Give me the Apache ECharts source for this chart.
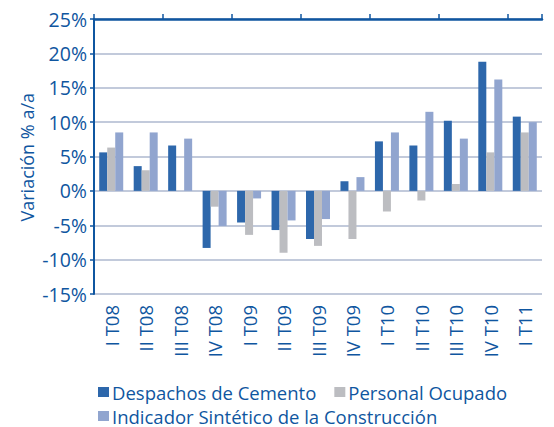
<!DOCTYPE html>
<html>
<head>
<meta charset="utf-8">
<script src="https://cdn.jsdelivr.net/npm/echarts@6/dist/echarts.min.js"></script>
<style>
  html, body { margin: 0; padding: 0; background: #fff; }
  #chart { width: 554px; height: 427px; }
</style>
</head>
<body>
<div id="chart"></div>
<script>
var quarters = ['I T08', 'II T08', 'III T08', 'IV T08', 'I T09', 'II T09', 'III T09', 'IV T09', 'I T10', 'II T10', 'III T10', 'IV T10', 'I T11'];
var cemento = [5.6, 3.6, 6.6, -8.3, -4.6, -5.7, -7.0, 1.4, 7.2, 6.6, 10.2, 18.8, 10.8];
var personal = [6.3, 3.0, 0, -2.3, -6.4, -9.0, -8.0, -7.0, -3.0, -1.4, 1.0, 5.6, 8.5];
var indicador = [8.5, 8.5, 7.6, -5.1, -1.1, -4.3, -4.1, 2.0, 8.5, 11.5, 7.6, 16.2, 10.0];
var seriesNames = ['Despachos de Cemento', 'Personal Ocupado', 'Indicador Sintético de la Construcción'];

var ink = '#0f56a0';
var font = 'Open Sans, sans-serif';

var chart = echarts.init(document.getElementById('chart'), null, { renderer: 'svg' });
chart.setOption({
  animation: false,
  textStyle: { fontFamily: font },
  grid: { left: 94, right: 12, top: 19, bottom: 133 },
  legend: [
    {
      data: seriesNames.slice(0, 2),
      left: 93, top: 377,
      icon: 'rect', itemWidth: 11, itemHeight: 10, itemGap: 18,
      textStyle: { color: ink, fontSize: 18.5, lineHeight: 20, fontFamily: font, padding: [0, 0, 0, -2] }
    },
    {
      data: seriesNames.slice(2),
      left: 93, top: 401,
      icon: 'rect', itemWidth: 11, itemHeight: 10,
      textStyle: { color: ink, fontSize: 18.5, lineHeight: 20, fontFamily: font, padding: [0, 0, 0, -2] }
    }
  ],
  graphic: [{
    type: 'text',
    left: 18, top: 93,
    rotation: Math.PI / 2,
    style: { text: 'Variación % a/a', fill: ink, fontSize: 18, fontFamily: font }
  }],
  xAxis: [
    {
      type: 'category',
      data: quarters,
      axisLine: { show: false },
      axisTick: { show: false },
      axisLabel: { rotate: 90, color: ink, fontSize: 18.5, margin: 11, interval: 0, fontFamily: font }
    },
    {
      type: 'category',
      data: quarters,
      axisLine: { onZero: true, lineStyle: { color: ink, width: 2.5 } },
      axisTick: { show: true, length: 5, lineStyle: { color: ink, width: 1.5 } },
      axisLabel: { show: false }
    }
  ],
  yAxis: {
    type: 'value',
    min: -15, max: 25, interval: 5,
    axisLine: { show: true, lineStyle: { color: ink, width: 2 } },
    axisTick: { show: true, length: 4, lineStyle: { color: ink, width: 1.5 } },
    axisLabel: { color: ink, fontSize: 19.5, margin: 7, formatter: '{value}%', fontFamily: font },
    splitLine: { lineStyle: { color: '#aeb8cf', width: 1.5 } }
  },
  series: [
    { name: seriesNames[0], type: 'bar', data: cemento, barWidth: 8, barGap: '0%', itemStyle: { color: '#2d67ab' } },
    { name: seriesNames[1], type: 'bar', data: personal, barWidth: 8, barGap: '0%', itemStyle: { color: '#bcbdc1' } },
    { name: seriesNames[2], type: 'bar', data: indicador, barWidth: 8, barGap: '0%', itemStyle: { color: '#91a5cf' } }
  ]
});
</script>
</body>
</html>
